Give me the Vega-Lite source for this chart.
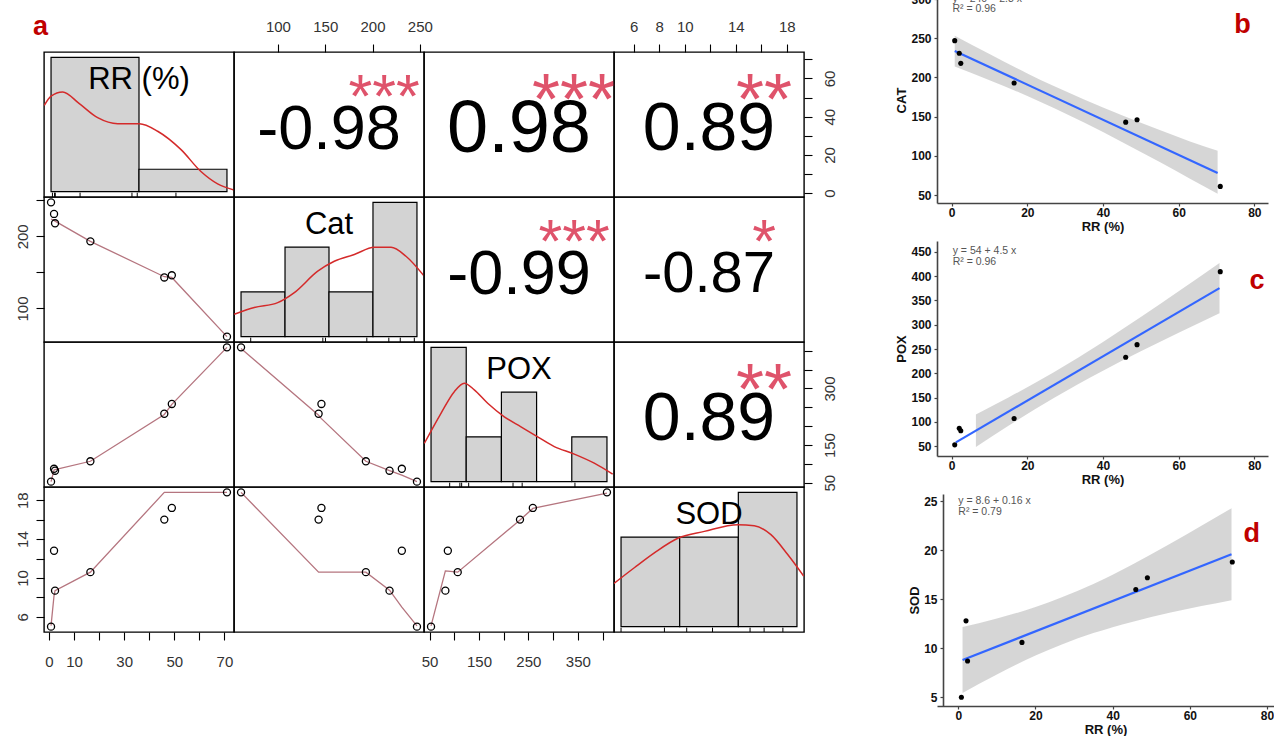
{
"$schema":"https://vega.github.io/schema/vega-lite/v6.json",
"background":"white",
"padding":{"left":14,"top":-7,"right":0,"bottom":0},
"config":{"font":"Liberation Sans","view":{"stroke":"#000","strokeWidth":1.4},
 "axis":{"grid":false,"domain":false,"tickColor":"#000","tickSize":8,"tickWidth":1.1,"labelFontSize":15,"labelColor":"#333","labelFlush":false,"labelOverlap":false,"labelBound":false}},
"datasets":{
 "obs":[{"RR":0.8,"Cat":247,"POX":53,"SOD":5.0},{"RR":2.0,"Cat":231,"POX":87,"SOD":12.8},{"RR":2.4,"Cat":218,"POX":82,"SOD":8.7},{"RR":16.5,"Cat":193,"POX":107,"SOD":10.6},{"RR":46,"Cat":143,"POX":233,"SOD":16.0},{"RR":49,"Cat":146,"POX":259,"SOD":17.2},{"RR":71,"Cat":61,"POX":409,"SOD":18.8}],
 "histRR":[{"lo":0,"hi":50,"d":0.017143},{"lo":50,"hi":100,"d":0.002857}],
 "histCat":[{"lo":50,"hi":100,"d":0.002857},{"lo":100,"hi":150,"d":0.005714},{"lo":150,"hi":200,"d":0.002857},{"lo":200,"hi":250,"d":0.008571}],
 "histPOX":[{"lo":0,"hi":100,"d":0.004286},{"lo":100,"hi":200,"d":0.001429},{"lo":200,"hi":300,"d":0.002857},{"lo":300,"hi":400,"d":0},{"lo":400,"hi":500,"d":0.001429}],
 "histSOD":[{"lo":5,"hi":10,"d":0.057143},{"lo":10,"hi":15,"d":0.057143},{"lo":15,"hi":20,"d":0.085714}],
 "densRR":[{"x":-3.83,"y":0.01102},{"x":0,"y":0.0122},{"x":6.63,"y":0.01273},{"x":15.9,"y":0.01127},{"x":26.5,"y":0.00944},{"x":37.9,"y":0.00867},{"x":50.2,"y":0.00867},{"x":60.6,"y":0.00771},{"x":73.9,"y":0.00536},{"x":85.2,"y":0.00257},{"x":94.7,"y":0.00099},{"x":104,"y":0.00022}],
 "densCat":[{"x":42.3,"y":0.00143},{"x":65.1,"y":0.00186},{"x":91.7,"y":0.00217},{"x":110.6,"y":0.00281},{"x":137.2,"y":0.00418},{"x":156,"y":0.00481},{"x":178.8,"y":0.00524},{"x":201.5,"y":0.0057},{"x":220.5,"y":0.0057},{"x":237.5,"y":0.00513},{"x":257.7,"y":0.0039}],
 "densPOX":[{"x":-19.1,"y":0.00122},{"x":28.3,"y":0.00218},{"x":66.1,"y":0.00287},{"x":94.5,"y":0.00314},{"x":122.9,"y":0.00293},{"x":161,"y":0.0025},{"x":208.2,"y":0.00207},{"x":255.6,"y":0.00175},{"x":303.1,"y":0.00143},{"x":350.3,"y":0.00112},{"x":407.1,"y":0.00088},{"x":463.9,"y":0.00059},{"x":516.2,"y":0.00024}],
 "densSOD":[{"x":4.4,"y":0.0276},{"x":6.13,"y":0.0376},{"x":7.84,"y":0.0471},{"x":9.88,"y":0.0566},{"x":12.1,"y":0.0608},{"x":14.95,"y":0.0651},{"x":16.36,"y":0.0644},{"x":17.78,"y":0.0587},{"x":19.21,"y":0.046},{"x":20.57,"y":0.0323}],
 "lwRRCat":[{"x":0.8,"y":224},{"x":2,"y":222},{"x":2.4,"y":221},{"x":16.5,"y":193},{"x":46,"y":144},{"x":49,"y":143},{"x":71,"y":61}],
 "lwRRPOX":[{"x":0.8,"y":53},{"x":2,"y":84},{"x":2.4,"y":85},{"x":16.5,"y":107},{"x":46,"y":231},{"x":49,"y":258},{"x":71,"y":409}],
 "lwCatPOX":[{"x":61,"y":406},{"x":143,"y":229},{"x":146,"y":220},{"x":193,"y":107},{"x":218,"y":82},{"x":231,"y":70},{"x":247,"y":53}],
 "lwRRSOD":[{"x":0.8,"y":5.1},{"x":2,"y":8.2},{"x":2.4,"y":8.7},{"x":16.5,"y":10.6},{"x":46,"y":18.8},{"x":49,"y":18.8},{"x":71,"y":18.8}],
 "lwCatSOD":[{"x":61,"y":18.8},{"x":143,"y":10.6},{"x":146,"y":10.6},{"x":193,"y":10.6},{"x":218,"y":8.75},{"x":231,"y":7.0},{"x":247,"y":5.07}],
 "lwPOXSOD":[{"x":53,"y":5.07},{"x":82,"y":10.73},{"x":87,"y":10.7},{"x":107,"y":10.6},{"x":233,"y":15.95},{"x":259,"y":17.15},{"x":409,"y":18.73}],
 "bandB":[{"x":0.8,"lo":214.1,"hi":253.4},{"x":10,"lo":196.6,"hi":229.8},{"x":20,"lo":176.4,"hi":205.2},{"x":27,"lo":161.1,"hi":189.1},{"x":35,"lo":142.5,"hi":171.9},{"x":45,"lo":117.8,"hi":151.8},{"x":55,"lo":92.0,"hi":133.0},{"x":63,"lo":70.7,"hi":118.3},{"x":70.3,"lo":51.5,"hi":106.5}],
 "fitB":[{"x":0.8,"y":233.8},{"x":70.3,"y":78.2}],
 "bandC":[{"x":6.4,"lo":48.6,"hi":115.6},{"x":15,"lo":92.3,"hi":150.3},{"x":27,"lo":149.4,"hi":202.4},{"x":40,"lo":205.4,"hi":264.6},{"x":50,"lo":245.2,"hi":315.8},{"x":60,"lo":283.3,"hi":368.7},{"x":70.8,"lo":323.4,"hi":426.8}],
 "fitC":[{"x":1.1,"y":58.0},{"x":70.8,"y":375.1}],
 "bandD":[{"x":1.1,"lo":5.44,"hi":12.16},{"x":10,"lo":7.33,"hi":13.03},{"x":20,"lo":9.25,"hi":14.21},{"x":27,"lo":10.42,"hi":15.22},{"x":35,"lo":11.55,"hi":16.57},{"x":45,"lo":12.69,"hi":18.53},{"x":55,"lo":13.64,"hi":20.68},{"x":63,"lo":14.31,"hi":22.49},{"x":70.8,"lo":14.91,"hi":24.29}],
 "fitD":[{"x":1.1,"y":8.8},{"x":70.8,"y":19.6}]
},
"hconcat":[
 {"vconcat":[
  {"width":10,"height":55,"view":{"stroke":null},"data":{"values":[{}]},"mark":{"type":"text","text":""}},
  {"title":{"text":"a","anchor":"start","frame":"group","fontSize":27,"fontWeight":"bold","color":"#C00000","offset":16.5,"baseline":"alphabetic","dx":-11,"dy":60},
   "columns":4,"spacing":0,"bounds":"flush","align":"all",
   "concat":[
    {"width":190,"height":145,"layer":[
     {"data":{"name":"histRR"},"mark":{"type":"rect","fill":"#D3D3D3","stroke":"#000","strokeWidth":1.2},"encoding":{"x":{"field":"lo","type":"quantitative","scale":{"domain":[-4,104],"nice":false,"zero":false},"axis":null},"x2":{"field":"hi"},"y":{"field":"d","type":"quantitative","scale":{"domain":[-0.000686,0.017829],"nice":false,"zero":false},"axis":null},"y2":{"datum":0}}},
     {"data":{"name":"densRR"},"mark":{"type":"line","color":"#D42A2A","strokeWidth":1.5,"interpolate":"monotone","clip":true},"encoding":{"x":{"field":"x","type":"quantitative","axis":null},"y":{"field":"y","type":"quantitative","axis":null}}},
     {"data":{"name":"obs"},"mark":{"type":"rule","color":"#000","strokeWidth":1},"encoding":{"x":{"field":"RR","type":"quantitative","axis":null},"y":{"datum":-0.000686,"axis":null},"y2":{"datum":-0.000131}}},
     {"data":{"values":[{}]},"mark":{"type":"text","text":"RR (%)","fontSize":31,"align":"center","baseline":"middle"},"encoding":{"x":{"datum":50,"axis":null},"y":{"datum":0.014311,"axis":null}}}
    ]},
    {"width":190,"height":145,"data":{"values":[{"r":"-0.98","s":"***"}]},"layer":[
     {"mark":{"type":"text","fontSize":63,"align":"center","baseline":"middle"},"encoding":{"text":{"field":"r","type":"nominal"},"x":{"datum":154,"type":"quantitative","scale":{"domain":[53.56,254.44],"nice":false,"zero":false},"axis":{"orient":"top","values":[100,150,200,250],"title":null,"labelPadding":10}},"y":{"datum":32.79,"type":"quantitative","scale":{"domain":[-2.008,73.808],"nice":false,"zero":false},"axis":null}}},
     {"mark":{"type":"text","fontSize":61,"align":"center","baseline":"middle","color":"#DF536B"},"encoding":{"text":{"field":"s","type":"nominal"},"x":{"datum":212.26,"type":"quantitative","axis":{"orient":"top","values":[100,150,200,250],"title":null,"labelPadding":10}},"y":{"datum":49.2,"type":"quantitative","axis":null}}}
    ]},
    {"width":190,"height":145,"data":{"values":[{"r":"0.98","s":"***"}]},"layer":[
     {"mark":{"type":"text","fontSize":74,"align":"center","baseline":"middle"},"encoding":{"text":{"field":"r","type":"nominal"},"x":{"datum":231,"type":"quantitative","scale":{"domain":[38.76,423.24],"nice":false,"zero":false},"axis":null},"y":{"datum":32.79,"type":"quantitative","scale":{"domain":[-2.008,73.808],"nice":false,"zero":false},"axis":null}}},
     {"mark":{"type":"text","fontSize":72,"align":"center","baseline":"middle","color":"#DF536B"},"encoding":{"text":{"field":"s","type":"nominal"},"x":{"datum":342.5,"axis":null},"y":{"datum":47.7,"axis":null}}}
    ]},
    {"width":190,"height":145,"data":{"values":[{"r":"0.89","s":"**"}]},"layer":[
     {"mark":{"type":"text","fontSize":68,"align":"center","baseline":"middle"},"encoding":{"text":{"field":"r","type":"nominal"},"x":{"datum":11.9,"type":"quantitative","scale":{"domain":[4.448,19.352],"nice":false,"zero":false},"axis":{"orient":"top","values":[6,8,10,12,14,16,18],"labelExpr":"indexof([6,8,10,14,18], datum.value) >= 0 ? datum.label : ''","title":null,"labelPadding":10}},"y":{"datum":32.79,"type":"quantitative","scale":{"domain":[-2.008,73.808],"nice":false,"zero":false},"axis":{"orient":"right","values":[0,10,20,30,40,50,60,70],"labelExpr":"indexof([0,20,40,60], datum.value) >= 0 ? datum.label : ''","labelAngle":-90,"labelAlign":"center","labelBaseline":"top","labelPadding":10,"title":null}}}},
     {"mark":{"type":"text","fontSize":72,"align":"center","baseline":"middle","color":"#DF536B"},"encoding":{"text":{"field":"s","type":"nominal"},"x":{"datum":16.222,"type":"quantitative","axis":{"orient":"top","values":[6,8,10,12,14,16,18],"labelExpr":"indexof([6,8,10,14,18], datum.value) >= 0 ? datum.label : ''","title":null,"labelPadding":10}},"y":{"datum":47.7,"type":"quantitative","axis":{"orient":"right","values":[0,10,20,30,40,50,60,70],"labelExpr":"indexof([0,20,40,60], datum.value) >= 0 ? datum.label : ''","labelAngle":-90,"labelAlign":"center","labelBaseline":"top","labelPadding":10,"title":null}}}}
    ]},
    {"width":190,"height":145,"layer":[
     {"data":{"name":"lwRRCat"},"mark":{"type":"line","color":"#B5757F","strokeWidth":1.3,"clip":true},"encoding":{"x":{"field":"x","type":"quantitative","scale":{"domain":[-2.008,73.808],"nice":false,"zero":false},"axis":null},"y":{"field":"y","type":"quantitative","scale":{"domain":[53.56,254.44],"nice":false,"zero":false},"axis":{"orient":"left","values":[100,150,200,250],"labelExpr":"indexof([100,200], datum.value) >= 0 ? datum.label : ''","labelAngle":-90,"labelAlign":"center","labelBaseline":"bottom","labelPadding":6,"title":null}}}},
     {"data":{"name":"obs"},"mark":{"type":"point","shape":"circle","filled":false,"color":"#000","size":50,"strokeWidth":1.3,"opacity":1},"encoding":{"x":{"field":"RR","type":"quantitative","axis":null},"y":{"field":"Cat","type":"quantitative","axis":{"orient":"left","values":[100,150,200,250],"labelExpr":"indexof([100,200], datum.value) >= 0 ? datum.label : ''","labelAngle":-90,"labelAlign":"center","labelBaseline":"bottom","labelPadding":6,"title":null}}}}
    ]},
    {"width":190,"height":145,"layer":[
     {"data":{"name":"histCat"},"mark":{"type":"rect","fill":"#D3D3D3","stroke":"#000","strokeWidth":1.2},"encoding":{"x":{"field":"lo","type":"quantitative","scale":{"domain":[42,258],"nice":false,"zero":false},"axis":null},"x2":{"field":"hi"},"y":{"field":"d","type":"quantitative","scale":{"domain":[-0.000343,0.008914],"nice":false,"zero":false},"axis":null},"y2":{"datum":0}}},
     {"data":{"name":"densCat"},"mark":{"type":"line","color":"#D42A2A","strokeWidth":1.5,"interpolate":"monotone","clip":true},"encoding":{"x":{"field":"x","type":"quantitative","axis":null},"y":{"field":"y","type":"quantitative","axis":null}}},
     {"data":{"name":"obs"},"mark":{"type":"rule","color":"#000","strokeWidth":1},"encoding":{"x":{"field":"Cat","type":"quantitative","axis":null},"y":{"datum":-0.000343,"axis":null},"y2":{"datum":-0.000065}}},
     {"data":{"values":[{}]},"mark":{"type":"text","text":"Cat","fontSize":31,"align":"center","baseline":"middle"},"encoding":{"x":{"datum":150,"axis":null},"y":{"datum":0.007155,"axis":null}}}
    ]},
    {"width":190,"height":145,"data":{"values":[{"r":"-0.99","s":"***"}]},"layer":[
     {"mark":{"type":"text","fontSize":63,"align":"center","baseline":"middle"},"encoding":{"text":{"field":"r","type":"nominal"},"x":{"datum":231,"type":"quantitative","scale":{"domain":[38.76,423.24],"nice":false,"zero":false},"axis":null},"y":{"datum":145.76,"type":"quantitative","scale":{"domain":[53.56,254.44],"nice":false,"zero":false},"axis":null}}},
     {"mark":{"type":"text","fontSize":61,"align":"center","baseline":"middle","color":"#DF536B"},"encoding":{"text":{"field":"s","type":"nominal"},"x":{"datum":342.5,"axis":null},"y":{"datum":189.3,"axis":null}}}
    ]},
    {"width":190,"height":145,"data":{"values":[{"r":"-0.87","s":"*"}]},"layer":[
     {"mark":{"type":"text","fontSize":58,"align":"center","baseline":"middle"},"encoding":{"text":{"field":"r","type":"nominal"},"x":{"datum":11.9,"type":"quantitative","scale":{"domain":[4.448,19.352],"nice":false,"zero":false},"axis":null},"y":{"datum":145.76,"type":"quantitative","scale":{"domain":[53.56,254.44],"nice":false,"zero":false},"axis":null}}},
     {"mark":{"type":"text","fontSize":61,"align":"center","baseline":"middle","color":"#DF536B"},"encoding":{"text":{"field":"s","type":"nominal"},"x":{"datum":16.222,"axis":null},"y":{"datum":189.3,"axis":null}}}
    ]},
    {"width":190,"height":145,"layer":[
     {"data":{"name":"lwRRPOX"},"mark":{"type":"line","color":"#B5757F","strokeWidth":1.3,"clip":true},"encoding":{"x":{"field":"x","type":"quantitative","scale":{"domain":[-2.008,73.808],"nice":false,"zero":false},"axis":null},"y":{"field":"y","type":"quantitative","scale":{"domain":[38.76,423.24],"nice":false,"zero":false},"axis":null}}},
     {"data":{"name":"obs"},"mark":{"type":"point","shape":"circle","filled":false,"color":"#000","size":50,"strokeWidth":1.3,"opacity":1},"encoding":{"x":{"field":"RR","type":"quantitative","axis":null},"y":{"field":"POX","type":"quantitative","axis":null}}}
    ]},
    {"width":190,"height":145,"layer":[
     {"data":{"name":"lwCatPOX"},"mark":{"type":"line","color":"#B5757F","strokeWidth":1.3,"clip":true},"encoding":{"x":{"field":"x","type":"quantitative","scale":{"domain":[53.56,254.44],"nice":false,"zero":false},"axis":null},"y":{"field":"y","type":"quantitative","scale":{"domain":[38.76,423.24],"nice":false,"zero":false},"axis":null}}},
     {"data":{"name":"obs"},"mark":{"type":"point","shape":"circle","filled":false,"color":"#000","size":50,"strokeWidth":1.3,"opacity":1},"encoding":{"x":{"field":"Cat","type":"quantitative","axis":null},"y":{"field":"POX","type":"quantitative","axis":null}}}
    ]},
    {"width":190,"height":145,"layer":[
     {"data":{"name":"histPOX"},"mark":{"type":"rect","fill":"#D3D3D3","stroke":"#000","strokeWidth":1.2},"encoding":{"x":{"field":"lo","type":"quantitative","scale":{"domain":[-20,520],"nice":false,"zero":false},"axis":null},"x2":{"field":"hi"},"y":{"field":"d","type":"quantitative","scale":{"domain":[-0.000171,0.004457],"nice":false,"zero":false},"axis":null},"y2":{"datum":0}}},
     {"data":{"name":"densPOX"},"mark":{"type":"line","color":"#D42A2A","strokeWidth":1.5,"interpolate":"monotone","clip":true},"encoding":{"x":{"field":"x","type":"quantitative","axis":null},"y":{"field":"y","type":"quantitative","axis":null}}},
     {"data":{"name":"obs"},"mark":{"type":"rule","color":"#000","strokeWidth":1},"encoding":{"x":{"field":"POX","type":"quantitative","axis":null},"y":{"datum":-0.000171,"axis":null},"y2":{"datum":-0.000032}}},
     {"data":{"values":[{}]},"mark":{"type":"text","text":"POX","fontSize":31,"align":"center","baseline":"middle"},"encoding":{"x":{"datum":250,"axis":null},"y":{"datum":0.003578,"axis":null}}}
    ]},
    {"width":190,"height":145,"data":{"values":[{"r":"0.89","s":"**"}]},"layer":[
     {"mark":{"type":"text","fontSize":68,"align":"center","baseline":"middle"},"encoding":{"text":{"field":"r","type":"nominal"},"x":{"datum":11.9,"type":"quantitative","scale":{"domain":[4.448,19.352],"nice":false,"zero":false},"axis":null},"y":{"datum":215.24,"type":"quantitative","scale":{"domain":[38.76,423.24],"nice":false,"zero":false},"axis":{"orient":"right","values":[50,100,150,200,250,300,350,400],"labelExpr":"indexof([50,150,300], datum.value) >= 0 ? datum.label : ''","labelAngle":-90,"labelAlign":"center","labelBaseline":"top","labelPadding":10,"title":null}}}},
     {"mark":{"type":"text","fontSize":72,"align":"center","baseline":"middle","color":"#DF536B"},"encoding":{"text":{"field":"s","type":"nominal"},"x":{"datum":16.222,"type":"quantitative","axis":null},"y":{"datum":290.8,"type":"quantitative","axis":{"orient":"right","values":[50,100,150,200,250,300,350,400],"labelExpr":"indexof([50,150,300], datum.value) >= 0 ? datum.label : ''","labelAngle":-90,"labelAlign":"center","labelBaseline":"top","labelPadding":10,"title":null}}}}
    ]},
    {"width":190,"height":145,"layer":[
     {"data":{"name":"lwRRSOD"},"mark":{"type":"line","color":"#B5757F","strokeWidth":1.3,"clip":true},"encoding":{"x":{"field":"x","type":"quantitative","scale":{"domain":[-2.008,73.808],"nice":false,"zero":false},"axis":{"orient":"bottom","values":[0,10,20,30,40,50,60,70],"labelExpr":"indexof([0,10,30,50,70], datum.value) >= 0 ? datum.label : ''","labelPadding":14,"title":null}},"y":{"field":"y","type":"quantitative","scale":{"domain":[4.448,19.352],"nice":false,"zero":false},"axis":{"orient":"left","values":[6,8,10,12,14,16,18],"labelExpr":"indexof([6,10,14,18], datum.value) >= 0 ? datum.label : ''","labelAngle":-90,"labelAlign":"center","labelBaseline":"bottom","labelPadding":6,"title":null}}}},
     {"data":{"name":"obs"},"mark":{"type":"point","shape":"circle","filled":false,"color":"#000","size":50,"strokeWidth":1.3,"opacity":1},"encoding":{"x":{"field":"RR","type":"quantitative","axis":{"orient":"bottom","values":[0,10,20,30,40,50,60,70],"labelExpr":"indexof([0,10,30,50,70], datum.value) >= 0 ? datum.label : ''","labelPadding":14,"title":null}},"y":{"field":"SOD","type":"quantitative","axis":{"orient":"left","values":[6,8,10,12,14,16,18],"labelExpr":"indexof([6,10,14,18], datum.value) >= 0 ? datum.label : ''","labelAngle":-90,"labelAlign":"center","labelBaseline":"bottom","labelPadding":6,"title":null}}}}
    ]},
    {"width":190,"height":145,"layer":[
     {"data":{"name":"lwCatSOD"},"mark":{"type":"line","color":"#B5757F","strokeWidth":1.3,"clip":true},"encoding":{"x":{"field":"x","type":"quantitative","scale":{"domain":[53.56,254.44],"nice":false,"zero":false},"axis":null},"y":{"field":"y","type":"quantitative","scale":{"domain":[4.448,19.352],"nice":false,"zero":false},"axis":null}}},
     {"data":{"name":"obs"},"mark":{"type":"point","shape":"circle","filled":false,"color":"#000","size":50,"strokeWidth":1.3,"opacity":1},"encoding":{"x":{"field":"Cat","type":"quantitative","axis":null},"y":{"field":"SOD","type":"quantitative","axis":null}}}
    ]},
    {"width":190,"height":145,"layer":[
     {"data":{"name":"lwPOXSOD"},"mark":{"type":"line","color":"#B5757F","strokeWidth":1.3,"clip":true},"encoding":{"x":{"field":"x","type":"quantitative","scale":{"domain":[38.76,423.24],"nice":false,"zero":false},"axis":{"orient":"bottom","values":[50,100,150,200,250,300,350,400],"labelExpr":"indexof([50,150,250,350], datum.value) >= 0 ? datum.label : ''","labelPadding":14,"title":null}},"y":{"field":"y","type":"quantitative","scale":{"domain":[4.448,19.352],"nice":false,"zero":false},"axis":null}}},
     {"data":{"name":"obs"},"mark":{"type":"point","shape":"circle","filled":false,"color":"#000","size":50,"strokeWidth":1.3,"opacity":1},"encoding":{"x":{"field":"POX","type":"quantitative","axis":{"orient":"bottom","values":[50,100,150,200,250,300,350,400],"labelExpr":"indexof([50,150,250,350], datum.value) >= 0 ? datum.label : ''","labelPadding":14,"title":null}},"y":{"field":"SOD","type":"quantitative","axis":null}}}
    ]},
    {"width":190,"height":145,"layer":[
     {"data":{"name":"histSOD"},"mark":{"type":"rect","fill":"#D3D3D3","stroke":"#000","strokeWidth":1.2},"encoding":{"x":{"field":"lo","type":"quantitative","scale":{"domain":[4.4,20.6],"nice":false,"zero":false},"axis":null},"x2":{"field":"hi"},"y":{"field":"d","type":"quantitative","scale":{"domain":[-0.003429,0.08914],"nice":false,"zero":false},"axis":null},"y2":{"datum":0}}},
     {"data":{"name":"densSOD"},"mark":{"type":"line","color":"#D42A2A","strokeWidth":1.5,"interpolate":"monotone","clip":true},"encoding":{"x":{"field":"x","type":"quantitative","axis":null},"y":{"field":"y","type":"quantitative","axis":null}}},
     {"data":{"name":"obs"},"mark":{"type":"rule","color":"#000","strokeWidth":1},"encoding":{"x":{"field":"SOD","type":"quantitative","axis":null},"y":{"datum":-0.003429,"axis":null},"y2":{"datum":-0.000652}}},
     {"data":{"values":[{}]},"mark":{"type":"text","text":"SOD","fontSize":31,"align":"center","baseline":"middle"},"encoding":{"x":{"datum":12.5,"axis":null},"y":{"datum":0.071552,"axis":null}}}
    ]}
   ]}
 ],"spacing":0,"bounds":"flush"},
 {"vconcat":[
  {"width":331,"height":206,"view":{"stroke":null},"layer":[
   {"data":{"name":"bandB"},"mark":{"type":"area","color":"#999999","opacity":0.4,"interpolate":"monotone"},"encoding":{"x":{"field":"x","type":"quantitative","scale":{"domain":[-3.886,83.62],"nice":false,"zero":false},"axis":{"values":[0,20,40,60,80],"title":"RR (%)","domain":true,"domainColor":"#444","domainWidth":1.6,"tickSize":3,"tickColor":"#444","tickWidth":1.2,"labelFontSize":12,"labelFontWeight":"bold","labelColor":"#111","labelPadding":1,"titleFontSize":13,"titleFontWeight":"bold","titleColor":"#111","titlePadding":2}},"y":{"field":"lo","type":"quantitative","scale":{"domain":[39.8,302.7],"nice":false,"zero":false},"axis":{"values":[50,100,150,200,250,300],"title":"CAT","domain":true,"domainColor":"#444","domainWidth":1.6,"tickSize":3,"tickColor":"#444","tickWidth":1.2,"labelFontSize":12,"labelFontWeight":"bold","labelColor":"#111","labelPadding":3,"titleFontSize":13,"titleFontWeight":"bold","titleColor":"#111","titlePadding":2}},"y2":{"field":"hi"}}},
   {"data":{"name":"fitB"},"mark":{"type":"line","color":"#3366FF","strokeWidth":2.2},"encoding":{"x":{"field":"x","type":"quantitative","axis":{"values":[0,20,40,60,80],"title":"RR (%)","domain":true,"domainColor":"#444","domainWidth":1.6,"tickSize":3,"tickColor":"#444","tickWidth":1.2,"labelFontSize":12,"labelFontWeight":"bold","labelColor":"#111","labelPadding":1,"titleFontSize":13,"titleFontWeight":"bold","titleColor":"#111","titlePadding":2}},"y":{"field":"y","type":"quantitative","axis":{"values":[50,100,150,200,250,300],"title":"CAT","domain":true,"domainColor":"#444","domainWidth":1.6,"tickSize":3,"tickColor":"#444","tickWidth":1.2,"labelFontSize":12,"labelFontWeight":"bold","labelColor":"#111","labelPadding":3,"titleFontSize":13,"titleFontWeight":"bold","titleColor":"#111","titlePadding":2}}}},
   {"data":{"name":"obs"},"mark":{"type":"circle","color":"#000","size":26,"opacity":1},"encoding":{"x":{"field":"RR","type":"quantitative","axis":{"values":[0,20,40,60,80],"title":"RR (%)","domain":true,"domainColor":"#444","domainWidth":1.6,"tickSize":3,"tickColor":"#444","tickWidth":1.2,"labelFontSize":12,"labelFontWeight":"bold","labelColor":"#111","labelPadding":1,"titleFontSize":13,"titleFontWeight":"bold","titleColor":"#111","titlePadding":2}},"y":{"field":"Cat","type":"quantitative","axis":{"values":[50,100,150,200,250,300],"title":"CAT","domain":true,"domainColor":"#444","domainWidth":1.6,"tickSize":3,"tickColor":"#444","tickWidth":1.2,"labelFontSize":12,"labelFontWeight":"bold","labelColor":"#111","labelPadding":3,"titleFontSize":13,"titleFontWeight":"bold","titleColor":"#111","titlePadding":2}}}},
   {"data":{"values":[{}]},"mark":{"type":"text","text":["y = 240 − 2.3 x","R² = 0.96"],"align":"left","baseline":"top","fontSize":10.5,"lineHeight":10.5,"color":"#555"},"encoding":{"x":{"datum":0.2,"type":"quantitative","axis":{"values":[0,20,40,60,80],"title":"RR (%)","domain":true,"domainColor":"#444","domainWidth":1.6,"tickSize":3,"tickColor":"#444","tickWidth":1.2,"labelFontSize":12,"labelFontWeight":"bold","labelColor":"#111","labelPadding":1,"titleFontSize":13,"titleFontWeight":"bold","titleColor":"#111","titlePadding":2}},"y":{"datum":306.9,"type":"quantitative","axis":{"values":[50,100,150,200,250,300],"title":"CAT","domain":true,"domainColor":"#444","domainWidth":1.6,"tickSize":3,"tickColor":"#444","tickWidth":1.2,"labelFontSize":12,"labelFontWeight":"bold","labelColor":"#111","labelPadding":3,"titleFontSize":13,"titleFontWeight":"bold","titleColor":"#111","titlePadding":2}}}},
   {"data":{"values":[{}]},"mark":{"type":"text","text":"b","fontSize":27,"fontWeight":"bold","color":"#C00000","align":"center","baseline":"middle"},"encoding":{"x":{"datum":76.9,"type":"quantitative","axis":{"values":[0,20,40,60,80],"title":"RR (%)","domain":true,"domainColor":"#444","domainWidth":1.6,"tickSize":3,"tickColor":"#444","tickWidth":1.2,"labelFontSize":12,"labelFontWeight":"bold","labelColor":"#111","labelPadding":1,"titleFontSize":13,"titleFontWeight":"bold","titleColor":"#111","titlePadding":2}},"y":{"datum":267.1,"type":"quantitative","axis":{"values":[50,100,150,200,250,300],"title":"CAT","domain":true,"domainColor":"#444","domainWidth":1.6,"tickSize":3,"tickColor":"#444","tickWidth":1.2,"labelFontSize":12,"labelFontWeight":"bold","labelColor":"#111","labelPadding":3,"titleFontSize":13,"titleFontWeight":"bold","titleColor":"#111","titlePadding":2}}}}
  ]},
  {"width":331,"height":215,"view":{"stroke":null},"layer":[
   {"data":{"name":"bandC"},"mark":{"type":"area","color":"#999999","opacity":0.4,"interpolate":"monotone"},"encoding":{"x":{"field":"x","type":"quantitative","scale":{"domain":[-3.886,83.62],"nice":false,"zero":false},"axis":{"values":[0,20,40,60,80],"title":"RR (%)","domain":true,"domainColor":"#444","domainWidth":1.6,"tickSize":3,"tickColor":"#444","tickWidth":1.2,"labelFontSize":12,"labelFontWeight":"bold","labelColor":"#111","labelPadding":1,"titleFontSize":13,"titleFontWeight":"bold","titleColor":"#111","titlePadding":2}},"y":{"field":"lo","type":"quantitative","scale":{"domain":[30.07,472.0],"nice":false,"zero":false},"axis":{"values":[50,100,150,200,250,300,350,400,450],"title":"POX","domain":true,"domainColor":"#444","domainWidth":1.6,"tickSize":3,"tickColor":"#444","tickWidth":1.2,"labelFontSize":12,"labelFontWeight":"bold","labelColor":"#111","labelPadding":3,"titleFontSize":13,"titleFontWeight":"bold","titleColor":"#111","titlePadding":2}},"y2":{"field":"hi"}}},
   {"data":{"name":"fitC"},"mark":{"type":"line","color":"#3366FF","strokeWidth":2.2},"encoding":{"x":{"field":"x","type":"quantitative","axis":{"values":[0,20,40,60,80],"title":"RR (%)","domain":true,"domainColor":"#444","domainWidth":1.6,"tickSize":3,"tickColor":"#444","tickWidth":1.2,"labelFontSize":12,"labelFontWeight":"bold","labelColor":"#111","labelPadding":1,"titleFontSize":13,"titleFontWeight":"bold","titleColor":"#111","titlePadding":2}},"y":{"field":"y","type":"quantitative","axis":{"values":[50,100,150,200,250,300,350,400,450],"title":"POX","domain":true,"domainColor":"#444","domainWidth":1.6,"tickSize":3,"tickColor":"#444","tickWidth":1.2,"labelFontSize":12,"labelFontWeight":"bold","labelColor":"#111","labelPadding":3,"titleFontSize":13,"titleFontWeight":"bold","titleColor":"#111","titlePadding":2}}}},
   {"data":{"name":"obs"},"mark":{"type":"circle","color":"#000","size":26,"opacity":1},"encoding":{"x":{"field":"RR","type":"quantitative","axis":{"values":[0,20,40,60,80],"title":"RR (%)","domain":true,"domainColor":"#444","domainWidth":1.6,"tickSize":3,"tickColor":"#444","tickWidth":1.2,"labelFontSize":12,"labelFontWeight":"bold","labelColor":"#111","labelPadding":1,"titleFontSize":13,"titleFontWeight":"bold","titleColor":"#111","titlePadding":2}},"y":{"field":"POX","type":"quantitative","axis":{"values":[50,100,150,200,250,300,350,400,450],"title":"POX","domain":true,"domainColor":"#444","domainWidth":1.6,"tickSize":3,"tickColor":"#444","tickWidth":1.2,"labelFontSize":12,"labelFontWeight":"bold","labelColor":"#111","labelPadding":3,"titleFontSize":13,"titleFontWeight":"bold","titleColor":"#111","titlePadding":2}}}},
   {"data":{"values":[{}]},"mark":{"type":"text","text":["y = 54 + 4.5 x","R² = 0.96"],"align":"left","baseline":"top","fontSize":10.5,"lineHeight":10.5,"color":"#555"},"encoding":{"x":{"datum":0.26,"type":"quantitative","axis":{"values":[0,20,40,60,80],"title":"RR (%)","domain":true,"domainColor":"#444","domainWidth":1.6,"tickSize":3,"tickColor":"#444","tickWidth":1.2,"labelFontSize":12,"labelFontWeight":"bold","labelColor":"#111","labelPadding":1,"titleFontSize":13,"titleFontWeight":"bold","titleColor":"#111","titlePadding":2}},"y":{"datum":461.3,"type":"quantitative","axis":{"values":[50,100,150,200,250,300,350,400,450],"title":"POX","domain":true,"domainColor":"#444","domainWidth":1.6,"tickSize":3,"tickColor":"#444","tickWidth":1.2,"labelFontSize":12,"labelFontWeight":"bold","labelColor":"#111","labelPadding":3,"titleFontSize":13,"titleFontWeight":"bold","titleColor":"#111","titlePadding":2}}}},
   {"data":{"values":[{}]},"mark":{"type":"text","text":"c","fontSize":27,"fontWeight":"bold","color":"#C00000","align":"center","baseline":"middle"},"encoding":{"x":{"datum":80.7,"type":"quantitative","axis":{"values":[0,20,40,60,80],"title":"RR (%)","domain":true,"domainColor":"#444","domainWidth":1.6,"tickSize":3,"tickColor":"#444","tickWidth":1.2,"labelFontSize":12,"labelFontWeight":"bold","labelColor":"#111","labelPadding":1,"titleFontSize":13,"titleFontWeight":"bold","titleColor":"#111","titlePadding":2}},"y":{"datum":390.8,"type":"quantitative","axis":{"values":[50,100,150,200,250,300,350,400,450],"title":"POX","domain":true,"domainColor":"#444","domainWidth":1.6,"tickSize":3,"tickColor":"#444","tickWidth":1.2,"labelFontSize":12,"labelFontWeight":"bold","labelColor":"#111","labelPadding":3,"titleFontSize":13,"titleFontWeight":"bold","titleColor":"#111","titlePadding":2}}}}
  ]},
  {"width":337,"height":212,"view":{"stroke":null},"layer":[
   {"data":{"name":"bandD"},"mark":{"type":"area","color":"#999999","opacity":0.4,"interpolate":"monotone"},"encoding":{"x":{"field":"x","type":"quantitative","scale":{"domain":[-5.52,81.81],"nice":false,"zero":false},"axis":{"values":[0,20,40,60,80],"title":"RR (%)","domain":true,"domainColor":"#444","domainWidth":1.6,"tickSize":3,"tickColor":"#444","tickWidth":1.2,"labelFontSize":12,"labelFontWeight":"bold","labelColor":"#111","labelPadding":1,"titleFontSize":13,"titleFontWeight":"bold","titleColor":"#111","titlePadding":2}},"y":{"field":"lo","type":"quantitative","scale":{"domain":[4.11,25.74],"nice":false,"zero":false},"axis":{"values":[5,10,15,20,25],"title":"SOD","offset":-6,"domain":true,"domainColor":"#444","domainWidth":1.6,"tickSize":3,"tickColor":"#444","tickWidth":1.2,"labelFontSize":12,"labelFontWeight":"bold","labelColor":"#111","labelPadding":3,"titleFontSize":13,"titleFontWeight":"bold","titleColor":"#111","titlePadding":2}},"y2":{"field":"hi"}}},
   {"data":{"name":"fitD"},"mark":{"type":"line","color":"#3366FF","strokeWidth":2.2},"encoding":{"x":{"field":"x","type":"quantitative","axis":{"values":[0,20,40,60,80],"title":"RR (%)","domain":true,"domainColor":"#444","domainWidth":1.6,"tickSize":3,"tickColor":"#444","tickWidth":1.2,"labelFontSize":12,"labelFontWeight":"bold","labelColor":"#111","labelPadding":1,"titleFontSize":13,"titleFontWeight":"bold","titleColor":"#111","titlePadding":2}},"y":{"field":"y","type":"quantitative","axis":{"values":[5,10,15,20,25],"title":"SOD","offset":-6,"domain":true,"domainColor":"#444","domainWidth":1.6,"tickSize":3,"tickColor":"#444","tickWidth":1.2,"labelFontSize":12,"labelFontWeight":"bold","labelColor":"#111","labelPadding":3,"titleFontSize":13,"titleFontWeight":"bold","titleColor":"#111","titlePadding":2}}}},
   {"data":{"name":"obs"},"mark":{"type":"circle","color":"#000","size":26,"opacity":1},"encoding":{"x":{"field":"RR","type":"quantitative","axis":{"values":[0,20,40,60,80],"title":"RR (%)","domain":true,"domainColor":"#444","domainWidth":1.6,"tickSize":3,"tickColor":"#444","tickWidth":1.2,"labelFontSize":12,"labelFontWeight":"bold","labelColor":"#111","labelPadding":1,"titleFontSize":13,"titleFontWeight":"bold","titleColor":"#111","titlePadding":2}},"y":{"field":"SOD","type":"quantitative","axis":{"values":[5,10,15,20,25],"title":"SOD","offset":-6,"domain":true,"domainColor":"#444","domainWidth":1.6,"tickSize":3,"tickColor":"#444","tickWidth":1.2,"labelFontSize":12,"labelFontWeight":"bold","labelColor":"#111","labelPadding":3,"titleFontSize":13,"titleFontWeight":"bold","titleColor":"#111","titlePadding":2}}}},
   {"data":{"values":[{}]},"mark":{"type":"text","text":["y = 8.6 + 0.16 x","R² = 0.79"],"align":"left","baseline":"top","fontSize":10.5,"lineHeight":10.5,"color":"#555"},"encoding":{"x":{"datum":0,"type":"quantitative","axis":{"values":[0,20,40,60,80],"title":"RR (%)","domain":true,"domainColor":"#444","domainWidth":1.6,"tickSize":3,"tickColor":"#444","tickWidth":1.2,"labelFontSize":12,"labelFontWeight":"bold","labelColor":"#111","labelPadding":1,"titleFontSize":13,"titleFontWeight":"bold","titleColor":"#111","titlePadding":2}},"y":{"datum":25.49,"type":"quantitative","axis":{"values":[5,10,15,20,25],"title":"SOD","offset":-6,"domain":true,"domainColor":"#444","domainWidth":1.6,"tickSize":3,"tickColor":"#444","tickWidth":1.2,"labelFontSize":12,"labelFontWeight":"bold","labelColor":"#111","labelPadding":3,"titleFontSize":13,"titleFontWeight":"bold","titleColor":"#111","titlePadding":2}}}},
   {"data":{"values":[{}]},"mark":{"type":"text","text":"d","fontSize":27,"fontWeight":"bold","color":"#C00000","align":"center","baseline":"middle"},"encoding":{"x":{"datum":76.06,"type":"quantitative","axis":{"values":[0,20,40,60,80],"title":"RR (%)","domain":true,"domainColor":"#444","domainWidth":1.6,"tickSize":3,"tickColor":"#444","tickWidth":1.2,"labelFontSize":12,"labelFontWeight":"bold","labelColor":"#111","labelPadding":1,"titleFontSize":13,"titleFontWeight":"bold","titleColor":"#111","titlePadding":2}},"y":{"datum":21.66,"type":"quantitative","axis":{"values":[5,10,15,20,25],"title":"SOD","offset":-6,"domain":true,"domainColor":"#444","domainWidth":1.6,"tickSize":3,"tickColor":"#444","tickWidth":1.2,"labelFontSize":12,"labelFontWeight":"bold","labelColor":"#111","labelPadding":3,"titleFontSize":13,"titleFontWeight":"bold","titleColor":"#111","titlePadding":2}}}}
  ]}
 ],"spacing":38,"bounds":"flush","align":"each"}
],
"spacing":893,
"bounds":"flush"
}
